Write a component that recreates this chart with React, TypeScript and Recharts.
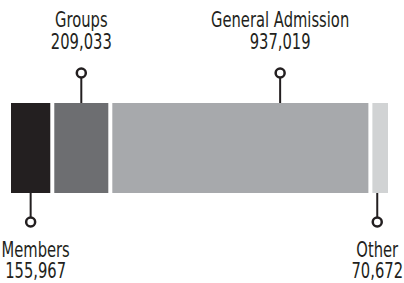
import React from 'react'
import { BarChart, Bar, XAxis, YAxis } from 'recharts'

const categories = ['Members', 'Groups', 'General Admission', 'Other']
const seriesKeys = ['members', 'groups', 'general', 'other']
const values = [155967, 209033, 937019, 70672]
const colors = ['#231f20', '#6d6e71', '#a7a9ac', '#d1d3d4']

// where each callout sits (layout only)
const sides = ['bottom', 'top', 'top', 'bottom']
const markerAt = [0.5, 0.5, 0.653, 0.35]
const textDx = [5, 0, 0, 0]

const total = values.reduce((a, b) => a + b, 0)
const rows = [
  seriesKeys.reduce(
    (row, k, i) => ({ ...row, [k]: values[i] }),
    { name: 'Attendance' } as Record<string, any>
  ),
]

const INK = '#231f20'
const FONT = "'DejaVu Sans', sans-serif"
const SQUEEZE = 0.67
const GAP = 2

const SegmentShape = (props: any) => {
  const { x, y, width, height, fill } = props
  return <rect x={x + GAP} y={y} width={Math.max(0, width - GAP * 2)} height={height} fill={fill} />
}

// condensed-looking text: squeeze the glyphs horizontally
const NarrowText = ({ x, y, children }: { x: number; y: number; children: React.ReactNode }) => (
  <g transform={`translate(${x},${y}) scale(${SQUEEZE},1)`}>
    <text x={0} y={0} textAnchor="middle" fontFamily={FONT} fontSize={22} fill={INK}>
      {children}
    </text>
  </g>
)

const makeCallout = (i: number) => (props: any) => {
  const { x, y, width, height } = props
  const cx = x + width * markerAt[i]
  const top = sides[i] === 'top'
  const r = 4.5
  const cy = top ? y - 30 : y + height + 29
  const stemFrom = top ? cy + r : y + height
  const stemTo = top ? y : cy - r
  const tx = cx + textDx[i]
  const nameY = top ? 27 : y + height + 64
  const valueY = nameY + (top ? 22 : 21)
  return (
    <g>
      <line x1={cx} x2={cx} y1={stemFrom} y2={stemTo} stroke={INK} strokeWidth={2} />
      <circle cx={cx} cy={cy} r={r} fill="#fff" stroke={INK} strokeWidth={2.5} />
      <NarrowText x={tx} y={nameY}>{categories[i]}</NarrowText>
      <NarrowText x={tx} y={valueY}>{values[i].toLocaleString('en-US')}</NarrowText>
    </g>
  )
}

export default function App() {
  return (
    <div style={{ position: 'absolute', left: 0, top: 0, width: 404, height: 283, background: '#fff' }}>
      <BarChart
        width={404}
        height={283}
        data={rows}
        layout="vertical"
        margin={{ top: 103, right: 14, bottom: 90, left: 9 }}
        barCategoryGap={0}
      >
        <XAxis type="number" domain={[0, total]} hide />
        <YAxis type="category" dataKey="name" hide />
        {seriesKeys.map((k, i) => (
          <Bar
            key={k}
            dataKey={k}
            stackId="all"
            fill={colors[i]}
            shape={SegmentShape}
            label={makeCallout(i)}
            isAnimationActive={false}
          />
        ))}
      </BarChart>
    </div>
  )
}
